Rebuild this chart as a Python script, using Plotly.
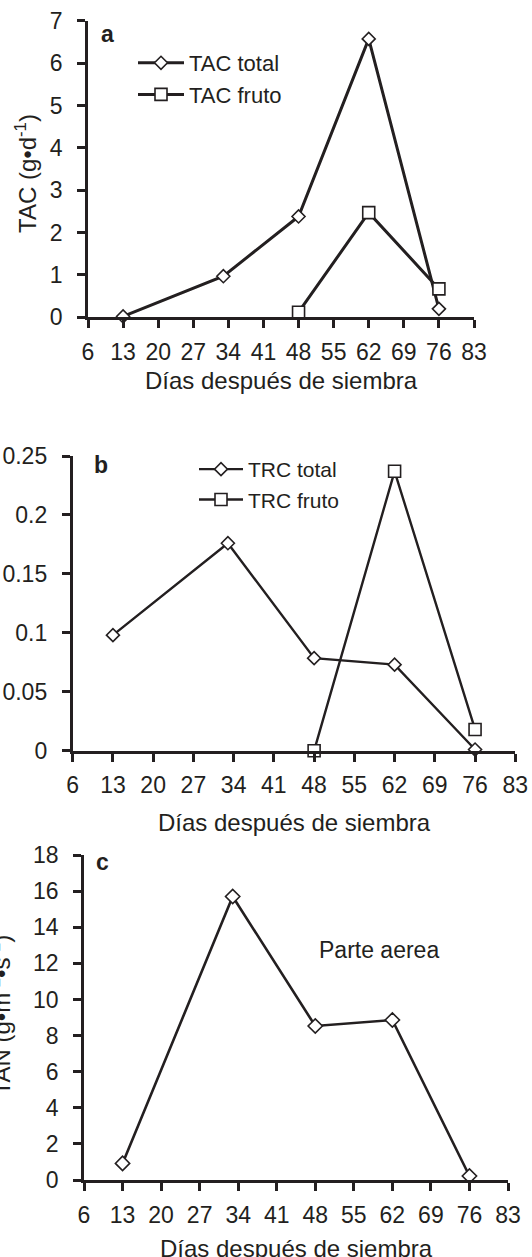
import plotly.graph_objects as go

# ---------------- data ----------------
x_ticks = [6, 13, 20, 27, 34, 41, 48, 55, 62, 69, 76, 83]

days_total = [13, 33, 48, 62, 76]
days_fruto = [48, 62, 76]

tac_total = [0.02, 0.97, 2.38, 6.57, 0.20]
tac_fruto = [0.12, 2.47, 0.67]

trc_total = [0.098, 0.176, 0.0785, 0.073, 0.001]
trc_fruto = [0.0, 0.237, 0.018]

tan_aerea = [0.92, 15.7, 8.53, 8.86, 0.22]

a_yticks = [0, 1, 2, 3, 4, 5, 6, 7]
b_yticks = [0, 0.05, 0.1, 0.15, 0.2, 0.25]
b_yticktext = ["0", "0.05", "0.1", "0.15", "0.2", "0.25"]
c_yticks = [0, 2, 4, 6, 8, 10, 12, 14, 16, 18]

# ---------------- style ----------------
W, H = 532, 1257
INK = "#231f20"
FONT = "Liberation Sans, Arial, Helvetica, sans-serif"
TICKF = 23


def px_x(p):
    return p / W


def px_y(p):
    return 1 - p / H


fig = go.Figure()

diamond = dict(symbol="diamond", size=10, color="white", line=dict(color=INK, width=1.6))
square = dict(symbol="square", size=12, color="white", line=dict(color=INK, width=1.6))

# panel a
fig.add_trace(go.Scatter(x=days_total, y=tac_total, mode="lines+markers", name="TAC total",
                         line=dict(color=INK, width=3), marker=diamond, cliponaxis=False,
                         xaxis="x", yaxis="y", legend="legend"))
fig.add_trace(go.Scatter(x=days_fruto, y=tac_fruto, mode="lines+markers", name="TAC fruto",
                         line=dict(color=INK, width=3), marker=square, cliponaxis=False,
                         xaxis="x", yaxis="y", legend="legend"))
# panel b
fig.add_trace(go.Scatter(x=days_total, y=trc_total, mode="lines+markers", name="TRC total",
                         line=dict(color=INK, width=2.4), marker=diamond, cliponaxis=False,
                         xaxis="x2", yaxis="y2", legend="legend2"))
fig.add_trace(go.Scatter(x=days_fruto, y=trc_fruto, mode="lines+markers", name="TRC fruto",
                         line=dict(color=INK, width=2.4), marker=square, cliponaxis=False,
                         xaxis="x2", yaxis="y2", legend="legend2"))
# panel c
fig.add_trace(go.Scatter(x=days_total, y=tan_aerea, mode="lines+markers", name="Parte aerea",
                         line=dict(color=INK, width=2.6),
                         marker=dict(symbol="diamond", size=11, color="white", line=dict(color=INK, width=1.6)),
                         cliponaxis=False, xaxis="x3", yaxis="y3", showlegend=False))

axis_common = dict(showline=True, linecolor=INK, linewidth=2.8, ticks="outside", ticklen=8,
                   tickwidth=2.6, tickcolor=INK, showgrid=False, zeroline=False, automargin=False,
                   tickfont=dict(family=FONT, size=TICKF, color=INK))

panels = {
    "a": dict(x0=88, x1=474, y0=20.7, y1=317.3),
    "b": dict(x0=72.7, x1=515.3, y0=456, y1=750.7),
    "c": dict(x0=84, x1=508, y0=855, y1=1180),
}

layout = dict(
    template="none",
    width=W, height=H, margin=dict(l=0, r=0, t=0, b=0, pad=0, autoexpand=False),
    paper_bgcolor="white", plot_bgcolor="white",
    font=dict(family=FONT, color=INK),
)

for suffix, key, yr, yt, ytt in [("", "a", [0, 7], a_yticks, None),
                                  ("2", "b", [0, 0.25], b_yticks, b_yticktext),
                                  ("3", "c", [0, 18], c_yticks, None)]:
    p = panels[key]
    xa = dict(axis_common, domain=[px_x(p["x0"]), px_x(p["x1"])], range=[6, 83],
              tickmode="array", tickvals=x_ticks, anchor="y" + suffix, ticklabelstandoff=4)
    ya = dict(axis_common, domain=[px_y(p["y1"]), px_y(p["y0"])], range=yr,
              tickmode="array", tickvals=yt, anchor="x" + suffix, ticklabelstandoff=10)
    if ytt:
        ya["ticktext"] = ytt
    layout["xaxis" + suffix] = xa
    layout["yaxis" + suffix] = ya

layout["legend"] = dict(x=px_x(133), y=px_y(42), xanchor="left", yanchor="top",
                        bgcolor="rgba(0,0,0,0)", itemwidth=46,
                        font=dict(family=FONT, size=22, color=INK), tracegroupgap=0)
layout["legend2"] = dict(x=px_x(194), y=px_y(449), xanchor="left", yanchor="top",
                         bgcolor="rgba(0,0,0,0)", itemwidth=44,
                         font=dict(family=FONT, size=21, color=INK), tracegroupgap=0)

fig.update_layout(**layout)

ann = []


def add_text(text, xp, yp, size=TICKF, bold=False, angle=0, xanchor="center"):
    ann.append(dict(text=("<b>%s</b>" % text) if bold else text, xref="paper", yref="paper",
                    x=px_x(xp), y=px_y(yp), xanchor=xanchor, yanchor="middle", showarrow=False,
                    textangle=angle, font=dict(family=FONT, size=size, color=INK)))


# x-axis titles
add_text("Días después de siembra", (88 + 474) / 2, 380, size=24)
add_text("Días después de siembra", (72.7 + 515.3) / 2, 822, size=24)
add_text("Días después de siembra", (84 + 508) / 2, 1248, size=24)
# y-axis titles
add_text("TAC (g•d<sup>-1</sup>)", 26, 174, angle=-90, size=24)
add_text("TAN (g•m<sup>-2</sup>•s<sup>-1</sup>)", -0.5, 1015, angle=-90, size=24)
# panel letters
add_text("a", 99, 34, size=23, bold=True, xanchor="left")
add_text("b", 92, 465, size=23, bold=True, xanchor="left")
add_text("c", 94, 862, size=23, bold=True, xanchor="left")
# series label
add_text("Parte aerea", 379, 950, size=23)

fig.update_layout(annotations=ann)

fig.write_html("out.html", config={"displayModeBar": False},
               post_script="document.body.style.margin='0px';")
